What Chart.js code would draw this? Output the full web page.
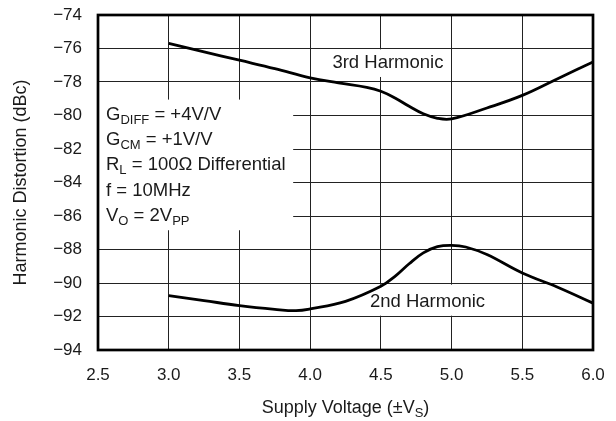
<!DOCTYPE html>
<html>
<head>
<meta charset="utf-8">
<script src="https://cdn.jsdelivr.net/npm/chart.js@4"></script>
<style>
  html, body { margin: 0; padding: 0; background: #fff; }
  #wrap { width: 616px; height: 421px; }
</style>
</head>
<body>
<div id="wrap"><canvas id="hdChart" width="616" height="421"></canvas></div>
<script>
/* ===== Harmonic distortion vs supply voltage ===== */

const FONT = "'Liberation Sans', Arial, Helvetica, sans-serif";

// 3rd harmonic curve
const supply3 = [3.0, 3.25, 3.5, 3.75, 4.0, 4.2, 4.4, 4.5, 4.6, 4.7, 4.8, 4.9, 5.0, 5.25, 5.5, 5.75, 6.0];
const hd3 = [-75.7, -76.2, -76.7, -77.2, -77.75, -78.05, -78.32, -78.55, -78.95, -79.45, -79.9, -80.17, -80.2, -79.55, -78.8, -77.8, -76.8];

// 2nd harmonic curve
const supply2 = [3.0, 3.25, 3.5, 3.75, 3.9, 4.0, 4.25, 4.5, 4.6, 4.7, 4.8, 4.9, 5.0, 5.1, 5.25, 5.5, 5.75, 6.0];
const hd2 = [-90.75, -91.05, -91.35, -91.57, -91.65, -91.55, -91.1, -90.2, -89.6, -88.85, -88.2, -87.83, -87.75, -87.85, -88.3, -89.4, -90.25, -91.2];

// axis ticks
const xTicks = [2.5, 3.0, 3.5, 4.0, 4.5, 5.0, 5.5, 6.0];
const yTicks = [-94, -92, -90, -88, -86, -84, -82, -80, -78, -76, -74];

// test conditions box (segments: [text, isSubscript])
const conditions = [
  [['G', false], ['DIFF', true], [' = +4V/V', false]],
  [['G', false], ['CM', true], [' = +1V/V', false]],
  [['R', false], ['L', true], [' = 100\u03A9 Differential', false]],
  [['f = 10MHz', false]],
  [['V', false], ['O', true], [' = 2V', false], ['PP', true]]
];
const xTitle = [['Supply Voltage (\u00B1V', false], ['S', true], [')', false]];

function drawRich(ctx, segs, x, y, size, align) {
  const subSize = Math.round(size * 0.7);
  let total = 0;
  segs.forEach(([t, sub]) => {
    ctx.font = (sub ? subSize : size) + 'px ' + FONT;
    total += ctx.measureText(t).width;
  });
  let cx = align === 'center' ? x - total / 2 : x;
  ctx.textAlign = 'left';
  ctx.textBaseline = 'alphabetic';
  segs.forEach(([t, sub]) => {
    ctx.font = (sub ? subSize : size) + 'px ' + FONT;
    ctx.fillText(t, cx, sub ? y + size * 0.22 : y);
    cx += ctx.measureText(t).width;
  });
}

const notesPlugin = {
  id: 'notes',
  beforeDatasetsDraw(chart) {
    const { ctx, scales: { x, y } } = chart;
    const box = (x0, y0, x1, y1) => {
      const px = x.getPixelForValue(x0), py = y.getPixelForValue(y0);
      ctx.fillRect(px, py, x.getPixelForValue(x1) - px, y.getPixelForValue(y1) - py);
    };
    ctx.save();
    ctx.fillStyle = '#fff';
    box(2.5, -79.05, 3.88, -86.85);   // conditions
    box(4.12, -76.05, 4.98, -77.7);   // 3rd label
    box(4.39, -90.1, 5.27, -91.95);   // 2nd label

    ctx.fillStyle = '#1a1a1a';
    const left = x.getPixelForValue(2.5) + 8;
    const top = y.getPixelForValue(-74) + 105;
    conditions.forEach((line, i) => drawRich(ctx, line, left, top + i * 25.2, 18.5, 'left'));

    ctx.font = '18.5px ' + FONT;
    ctx.textAlign = 'center';
    ctx.textBaseline = 'middle';
    ctx.fillText('3rd Harmonic', x.getPixelForValue(4.55), y.getPixelForValue(-76.87));
    ctx.fillText('2nd Harmonic', x.getPixelForValue(4.83), y.getPixelForValue(-91.1));
    ctx.restore();
  },
  afterDatasetsDraw(chart) {
    const { ctx, chartArea: a } = chart;
    ctx.save();
    ctx.strokeStyle = '#000';
    ctx.lineWidth = 2.7;
    ctx.strokeRect(a.left, a.top, a.right - a.left, a.bottom - a.top);
    ctx.fillStyle = '#1a1a1a';
    drawRich(ctx, xTitle, (a.left + a.right) / 2, 413, 18, 'center');
    ctx.restore();
  }
};

const toPoints = (xs, ys) => xs.map((v, i) => ({ x: v, y: ys[i] }));

new Chart(document.getElementById('hdChart').getContext('2d'), {
  type: 'line',
  data: {
    datasets: [
      { label: '3rd Harmonic', data: toPoints(supply3, hd3) },
      { label: '2nd Harmonic', data: toPoints(supply2, hd2) }
    ].map(d => Object.assign(d, {
      borderColor: '#000',
      borderWidth: 2.8,
      pointRadius: 0,
      fill: false,
      tension: 0.4
    }))
  },
  options: {
    responsive: false,
    devicePixelRatio: 1,
    animation: false,
    layout: { padding: { top: 15, right: 23, left: 0, bottom: 0 } },
    scales: {
      x: {
        type: 'linear',
        min: xTicks[0],
        max: xTicks[xTicks.length - 1],
        afterBuildTicks: s => { s.ticks = xTicks.map(v => ({ value: v })); },
        afterFit: s => { s.height = 71; s.paddingLeft = 0; s.paddingRight = 0; },
        grid: { color: '#222', lineWidth: 1, drawTicks: false },
        border: { display: false },
        ticks: {
          color: '#1a1a1a',
          padding: 15,
          maxRotation: 0,
          font: { family: FONT, size: 17 },
          callback: v => Number(v).toFixed(1)
        }
      },
      y: {
        type: 'linear',
        min: yTicks[0],
        max: yTicks[yTicks.length - 1],
        afterBuildTicks: s => { s.ticks = yTicks.map(v => ({ value: v })); },
        afterFit: s => { s.width = 98; s.paddingTop = 0; s.paddingBottom = 0; },
        grid: { color: '#222', lineWidth: 1, drawTicks: false },
        border: { display: false },
        ticks: {
          color: '#1a1a1a',
          padding: 16,
          font: { family: FONT, size: 17 },
          callback: v => '\u2212' + Math.abs(v)
        },
        title: {
          display: true,
          text: 'Harmonic Distortion (dBc)',
          color: '#1a1a1a',
          padding: { top: 10, bottom: 0 },
          font: { family: FONT, size: 18 }
        }
      }
    },
    plugins: {
      legend: { display: false },
      tooltip: { enabled: false }
    }
  },
  plugins: [notesPlugin]
});
</script>
</body>
</html>
